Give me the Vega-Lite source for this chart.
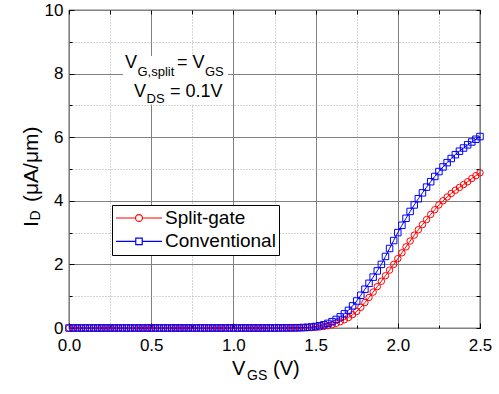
{
  "$schema": "https://vega.github.io/schema/vega-lite/v6.json",
  "width": 411,
  "height": 318,
  "autosize": {"type": "none"},
  "padding": {"left": 69, "top": 10, "right": 19, "bottom": 66},
  "config": {"font": "Liberation Sans", "view": {"stroke": "black", "strokeWidth": 1.2}},
  "data": {"values": [
    {"series":"Split-gate","v":0,"i":0},{"series":"Split-gate","v":0.025,"i":0},{"series":"Split-gate","v":0.05,"i":0},{"series":"Split-gate","v":0.075,"i":0},{"series":"Split-gate","v":0.1,"i":0},{"series":"Split-gate","v":0.125,"i":0},{"series":"Split-gate","v":0.15,"i":0},{"series":"Split-gate","v":0.175,"i":0},{"series":"Split-gate","v":0.2,"i":0},{"series":"Split-gate","v":0.225,"i":0},{"series":"Split-gate","v":0.25,"i":0},{"series":"Split-gate","v":0.275,"i":0},{"series":"Split-gate","v":0.3,"i":0},{"series":"Split-gate","v":0.325,"i":0},{"series":"Split-gate","v":0.35,"i":0},{"series":"Split-gate","v":0.375,"i":0},{"series":"Split-gate","v":0.4,"i":0},{"series":"Split-gate","v":0.425,"i":0},{"series":"Split-gate","v":0.45,"i":0},{"series":"Split-gate","v":0.475,"i":0},{"series":"Split-gate","v":0.5,"i":0},{"series":"Split-gate","v":0.525,"i":0},{"series":"Split-gate","v":0.55,"i":0},{"series":"Split-gate","v":0.575,"i":0},{"series":"Split-gate","v":0.6,"i":0},{"series":"Split-gate","v":0.625,"i":0},{"series":"Split-gate","v":0.65,"i":0},{"series":"Split-gate","v":0.675,"i":0},{"series":"Split-gate","v":0.7,"i":0},{"series":"Split-gate","v":0.725,"i":0},{"series":"Split-gate","v":0.75,"i":0},{"series":"Split-gate","v":0.775,"i":0},{"series":"Split-gate","v":0.8,"i":0},{"series":"Split-gate","v":0.825,"i":0},{"series":"Split-gate","v":0.85,"i":0},{"series":"Split-gate","v":0.875,"i":0},{"series":"Split-gate","v":0.9,"i":0},{"series":"Split-gate","v":0.925,"i":0},{"series":"Split-gate","v":0.95,"i":0},{"series":"Split-gate","v":0.975,"i":0},{"series":"Split-gate","v":1,"i":0},{"series":"Split-gate","v":1.025,"i":0},{"series":"Split-gate","v":1.05,"i":0},{"series":"Split-gate","v":1.075,"i":0},{"series":"Split-gate","v":1.1,"i":0},{"series":"Split-gate","v":1.125,"i":0},{"series":"Split-gate","v":1.15,"i":0},{"series":"Split-gate","v":1.175,"i":0},{"series":"Split-gate","v":1.2,"i":0},{"series":"Split-gate","v":1.225,"i":0},{"series":"Split-gate","v":1.25,"i":0},{"series":"Split-gate","v":1.275,"i":0},{"series":"Split-gate","v":1.3,"i":0},{"series":"Split-gate","v":1.325,"i":0},{"series":"Split-gate","v":1.35,"i":0.001},{"series":"Split-gate","v":1.375,"i":0.002},{"series":"Split-gate","v":1.4,"i":0.003},{"series":"Split-gate","v":1.425,"i":0.005},{"series":"Split-gate","v":1.45,"i":0.008},{"series":"Split-gate","v":1.475,"i":0.013},{"series":"Split-gate","v":1.5,"i":0.02},{"series":"Split-gate","v":1.525,"i":0.032},{"series":"Split-gate","v":1.55,"i":0.05},{"series":"Split-gate","v":1.575,"i":0.072},{"series":"Split-gate","v":1.6,"i":0.1},{"series":"Split-gate","v":1.625,"i":0.145},{"series":"Split-gate","v":1.65,"i":0.2},{"series":"Split-gate","v":1.675,"i":0.26},{"series":"Split-gate","v":1.7,"i":0.33},{"series":"Split-gate","v":1.725,"i":0.42},{"series":"Split-gate","v":1.75,"i":0.52},{"series":"Split-gate","v":1.775,"i":0.65},{"series":"Split-gate","v":1.8,"i":0.8},{"series":"Split-gate","v":1.825,"i":0.96},{"series":"Split-gate","v":1.85,"i":1.13},{"series":"Split-gate","v":1.875,"i":1.3},{"series":"Split-gate","v":1.9,"i":1.47},{"series":"Split-gate","v":1.925,"i":1.645},{"series":"Split-gate","v":1.95,"i":1.82},{"series":"Split-gate","v":1.975,"i":2.0},{"series":"Split-gate","v":2.0,"i":2.18},{"series":"Split-gate","v":2.025,"i":2.365},{"series":"Split-gate","v":2.05,"i":2.55},{"series":"Split-gate","v":2.075,"i":2.735},{"series":"Split-gate","v":2.1,"i":2.92},{"series":"Split-gate","v":2.125,"i":3.09},{"series":"Split-gate","v":2.15,"i":3.25},{"series":"Split-gate","v":2.175,"i":3.41},{"series":"Split-gate","v":2.2,"i":3.57},{"series":"Split-gate","v":2.225,"i":3.72},{"series":"Split-gate","v":2.25,"i":3.87},{"series":"Split-gate","v":2.275,"i":4.0},{"series":"Split-gate","v":2.3,"i":4.12},{"series":"Split-gate","v":2.325,"i":4.23},{"series":"Split-gate","v":2.35,"i":4.33},{"series":"Split-gate","v":2.375,"i":4.42},{"series":"Split-gate","v":2.4,"i":4.51},{"series":"Split-gate","v":2.425,"i":4.6},{"series":"Split-gate","v":2.45,"i":4.7},{"series":"Split-gate","v":2.475,"i":4.79},{"series":"Split-gate","v":2.5,"i":4.88},
    {"series":"Conventional","v":0,"i":0},{"series":"Conventional","v":0.025,"i":0},{"series":"Conventional","v":0.05,"i":0},{"series":"Conventional","v":0.075,"i":0},{"series":"Conventional","v":0.1,"i":0},{"series":"Conventional","v":0.125,"i":0},{"series":"Conventional","v":0.15,"i":0},{"series":"Conventional","v":0.175,"i":0},{"series":"Conventional","v":0.2,"i":0},{"series":"Conventional","v":0.225,"i":0},{"series":"Conventional","v":0.25,"i":0},{"series":"Conventional","v":0.275,"i":0},{"series":"Conventional","v":0.3,"i":0},{"series":"Conventional","v":0.325,"i":0},{"series":"Conventional","v":0.35,"i":0},{"series":"Conventional","v":0.375,"i":0},{"series":"Conventional","v":0.4,"i":0},{"series":"Conventional","v":0.425,"i":0},{"series":"Conventional","v":0.45,"i":0},{"series":"Conventional","v":0.475,"i":0},{"series":"Conventional","v":0.5,"i":0},{"series":"Conventional","v":0.525,"i":0},{"series":"Conventional","v":0.55,"i":0},{"series":"Conventional","v":0.575,"i":0},{"series":"Conventional","v":0.6,"i":0},{"series":"Conventional","v":0.625,"i":0},{"series":"Conventional","v":0.65,"i":0},{"series":"Conventional","v":0.675,"i":0},{"series":"Conventional","v":0.7,"i":0},{"series":"Conventional","v":0.725,"i":0},{"series":"Conventional","v":0.75,"i":0},{"series":"Conventional","v":0.775,"i":0},{"series":"Conventional","v":0.8,"i":0},{"series":"Conventional","v":0.825,"i":0},{"series":"Conventional","v":0.85,"i":0},{"series":"Conventional","v":0.875,"i":0},{"series":"Conventional","v":0.9,"i":0},{"series":"Conventional","v":0.925,"i":0},{"series":"Conventional","v":0.95,"i":0},{"series":"Conventional","v":0.975,"i":0},{"series":"Conventional","v":1,"i":0},{"series":"Conventional","v":1.025,"i":0},{"series":"Conventional","v":1.05,"i":0},{"series":"Conventional","v":1.075,"i":0},{"series":"Conventional","v":1.1,"i":0},{"series":"Conventional","v":1.125,"i":0},{"series":"Conventional","v":1.15,"i":0},{"series":"Conventional","v":1.175,"i":0},{"series":"Conventional","v":1.2,"i":0},{"series":"Conventional","v":1.225,"i":0},{"series":"Conventional","v":1.25,"i":0.001},{"series":"Conventional","v":1.275,"i":0.002},{"series":"Conventional","v":1.3,"i":0.003},{"series":"Conventional","v":1.325,"i":0.004},{"series":"Conventional","v":1.35,"i":0.005},{"series":"Conventional","v":1.375,"i":0.007},{"series":"Conventional","v":1.4,"i":0.01},{"series":"Conventional","v":1.425,"i":0.015},{"series":"Conventional","v":1.45,"i":0.022},{"series":"Conventional","v":1.475,"i":0.033},{"series":"Conventional","v":1.5,"i":0.048},{"series":"Conventional","v":1.525,"i":0.07},{"series":"Conventional","v":1.55,"i":0.1},{"series":"Conventional","v":1.575,"i":0.145},{"series":"Conventional","v":1.6,"i":0.2},{"series":"Conventional","v":1.625,"i":0.27},{"series":"Conventional","v":1.65,"i":0.35},{"series":"Conventional","v":1.675,"i":0.445},{"series":"Conventional","v":1.7,"i":0.555},{"series":"Conventional","v":1.725,"i":0.695},{"series":"Conventional","v":1.75,"i":0.85},{"series":"Conventional","v":1.775,"i":1.03},{"series":"Conventional","v":1.8,"i":1.22},{"series":"Conventional","v":1.825,"i":1.405},{"series":"Conventional","v":1.85,"i":1.6},{"series":"Conventional","v":1.875,"i":1.795},{"series":"Conventional","v":1.9,"i":2.0},{"series":"Conventional","v":1.925,"i":2.25},{"series":"Conventional","v":1.95,"i":2.5},{"series":"Conventional","v":1.975,"i":2.75},{"series":"Conventional","v":2.0,"i":3.0},{"series":"Conventional","v":2.025,"i":3.23},{"series":"Conventional","v":2.05,"i":3.45},{"series":"Conventional","v":2.075,"i":3.665},{"series":"Conventional","v":2.1,"i":3.87},{"series":"Conventional","v":2.125,"i":4.065},{"series":"Conventional","v":2.15,"i":4.25},{"series":"Conventional","v":2.175,"i":4.43},{"series":"Conventional","v":2.2,"i":4.6},{"series":"Conventional","v":2.225,"i":4.765},{"series":"Conventional","v":2.25,"i":4.92},{"series":"Conventional","v":2.275,"i":5.065},{"series":"Conventional","v":2.3,"i":5.2},{"series":"Conventional","v":2.325,"i":5.33},{"series":"Conventional","v":2.35,"i":5.45},{"series":"Conventional","v":2.375,"i":5.56},{"series":"Conventional","v":2.4,"i":5.66},{"series":"Conventional","v":2.425,"i":5.76},{"series":"Conventional","v":2.45,"i":5.85},{"series":"Conventional","v":2.475,"i":5.935},{"series":"Conventional","v":2.5,"i":6.02}
  ]},
  "resolve": {"axis": {"x": "independent", "y": "independent"}},
  "layer": [
    {
      "mark": {"type": "line", "strokeWidth": 1},
      "encoding": {
        "x": {"field": "v", "type": "quantitative", "scale": {"domain": [0, 2.5], "nice": false},
          "axis": {"orient": "bottom", "values": [0.25, 0.75, 1.25, 1.75, 2.25], "grid": true, "gridDash": [1, 2], "gridColor": "#a8a8a8", "gridWidth": 1, "ticks": true, "tickSize": -3, "tickColor": "black", "labels": false, "domain": false, "title": null}},
        "y": {"field": "i", "type": "quantitative", "scale": {"domain": [0, 10], "nice": false},
          "axis": {"orient": "left", "values": [1, 3, 5, 7, 9], "grid": true, "gridDash": [1, 2], "gridColor": "#a8a8a8", "gridWidth": 1, "ticks": true, "tickSize": -3, "tickColor": "black", "labels": false, "domain": false, "title": null}},
        "color": {"field": "series", "type": "nominal",
          "scale": {"domain": ["Split-gate", "Conventional"], "range": ["#ff0000", "#0000ff"]},
          "legend": {"orient": "none", "legendX": 43, "legendY": 195, "title": null, "strokeColor": "black", "fillColor": "white", "padding": 3,
            "symbolSize": 2116, "symbolStrokeWidth": 1.2, "labelFontSize": 19, "labelFont": "Liberation Sans", "labelColor": "black", "labelOffset": 2, "clipHeight": 20, "rowPadding": 3.4, "symbolOffset": 0,
            "encode": {"symbols": {"update": {"shape": {"signal": "datum.value === 'Split-gate' ? 'M-1,0H-0.15M0.15,0H1M-0.15,0A0.15,0.15 0 1,1 0.15,0A0.15,0.15 0 1,1 -0.15,0' : 'M-1,0H-0.14M0.14,0H1M-0.14,-0.14H0.14V0.14H-0.14Z'"}, "fill": {"value": "transparent"}}}}}}
      }
    },
    {
      "transform": [{"filter": "datum.series === 'Split-gate'"}],
      "mark": {"type": "point", "shape": "circle", "size": 42, "strokeWidth": 1, "filled": false, "color": "#ff0000", "opacity": 1},
      "encoding": {
        "x": {"field": "v", "type": "quantitative",
          "axis": {"orient": "bottom", "values": [0, 0.5, 1, 1.5, 2, 2.5], "format": ".1f", "grid": true, "gridColor": "#808080", "gridWidth": 1, "tickSize": -5, "tickColor": "black", "labelFontSize": 17, "labelFont": "Liberation Sans", "labelColor": "black", "labelPadding": 14, "labelFlush": false, "domain": false, "title": null}},
        "y": {"field": "i", "type": "quantitative",
          "axis": {"orient": "left", "values": [0, 2, 4, 6, 8, 10], "grid": true, "gridColor": "#808080", "gridWidth": 1, "tickSize": -5, "tickColor": "black", "labelFontSize": 17, "labelFont": "Liberation Sans", "labelColor": "black", "labelPadding": 11, "labelFlush": false, "domain": false, "title": null}}
      }
    },
    {
      "transform": [{"filter": "datum.series === 'Conventional'"}],
      "mark": {"type": "point", "shape": "square", "size": 42, "strokeWidth": 1, "filled": false, "color": "#0000ff", "opacity": 1},
      "encoding": {
        "x": {"field": "v", "type": "quantitative",
          "axis": {"orient": "top", "values": [0, 0.25, 0.5, 0.75, 1, 1.25, 1.5, 1.75, 2, 2.25, 2.5], "grid": false, "tickSize": -4, "tickColor": "black", "labels": false, "domain": false, "title": null}},
        "y": {"field": "i", "type": "quantitative",
          "axis": {"orient": "right", "values": [0, 1, 2, 3, 4, 5, 6, 7, 8, 9, 10], "grid": false, "tickSize": -4, "tickColor": "black", "labels": false, "domain": false, "title": null}}
      }
    },
    {
      "data": {"values": [{}]},
      "mark": {"type": "rect", "color": "white", "opacity": 1},
      "encoding": {
        "x": {"datum": 0.328, "type": "quantitative", "axis": null},
        "x2": {"datum": 0.967},
        "y": {"datum": 8.55, "type": "quantitative", "axis": null},
        "y2": {"datum": 7.03}
      }
    },
    {"data": {"values": [{}]}, "mark": {"type": "text", "text": "V", "fontSize": 18, "align": "left", "baseline": "alphabetic", "color": "black"},
      "encoding": {"x": {"datum": 0.3406, "type": "quantitative", "axis": null}, "y": {"datum": 8.167, "type": "quantitative", "axis": null}}},
    {"data": {"values": [{}]}, "mark": {"type": "text", "text": "G,split", "fontSize": 13, "align": "left", "baseline": "alphabetic", "color": "black"},
      "encoding": {"x": {"datum": 0.4167, "type": "quantitative", "axis": null}, "y": {"datum": 7.925, "type": "quantitative", "axis": null}}},
    {"data": {"values": [{}]}, "mark": {"type": "text", "text": "= V", "fontSize": 18, "align": "left", "baseline": "alphabetic", "color": "black"},
      "encoding": {"x": {"datum": 0.6569, "type": "quantitative", "axis": null}, "y": {"datum": 8.167, "type": "quantitative", "axis": null}}},
    {"data": {"values": [{}]}, "mark": {"type": "text", "text": "GS", "fontSize": 13, "align": "left", "baseline": "alphabetic", "color": "black"},
      "encoding": {"x": {"datum": 0.8273, "type": "quantitative", "axis": null}, "y": {"datum": 7.925, "type": "quantitative", "axis": null}}},
    {"data": {"values": [{}]}, "mark": {"type": "text", "text": "V", "fontSize": 18, "align": "left", "baseline": "alphabetic", "color": "black"},
      "encoding": {"x": {"datum": 0.3954, "type": "quantitative", "axis": null}, "y": {"datum": 7.274, "type": "quantitative", "axis": null}}},
    {"data": {"values": [{}]}, "mark": {"type": "text", "text": "DS", "fontSize": 13, "align": "left", "baseline": "alphabetic", "color": "black"},
      "encoding": {"x": {"datum": 0.4714, "type": "quantitative", "axis": null}, "y": {"datum": 7.066, "type": "quantitative", "axis": null}}},
    {"data": {"values": [{}]}, "mark": {"type": "text", "text": "= 0.1V", "fontSize": 18, "align": "left", "baseline": "alphabetic", "color": "black"},
      "encoding": {"x": {"datum": 0.6144, "type": "quantitative", "axis": null}, "y": {"datum": 7.274, "type": "quantitative", "axis": null}}},
    {"data": {"values": [{}]}, "mark": {"type": "text", "text": "I", "fontSize": 21, "angle": 270, "align": "left", "baseline": "alphabetic", "color": "black"},
      "encoding": {"x": {"datum": -0.1886, "type": "quantitative", "axis": null}, "y": {"datum": 3.176, "type": "quantitative", "axis": null}}},
    {"data": {"values": [{}]}, "mark": {"type": "text", "text": "D", "fontSize": 14, "angle": 270, "align": "left", "baseline": "alphabetic", "color": "black"},
      "encoding": {"x": {"datum": -0.1764, "type": "quantitative", "axis": null}, "y": {"datum": 3.381, "type": "quantitative", "axis": null}}},
    {"data": {"values": [{}]}, "mark": {"type": "text", "text": "(μA/μm)", "fontSize": 21, "angle": 270, "align": "left", "baseline": "alphabetic", "color": "black"},
      "encoding": {"x": {"datum": -0.1865, "type": "quantitative", "axis": null}, "y": {"datum": 3.962, "type": "quantitative", "axis": null}}},
    {"data": {"values": [{}]}, "mark": {"type": "text", "text": "V", "fontSize": 20, "align": "left", "baseline": "alphabetic", "color": "black"},
      "encoding": {"x": {"datum": 0.9915, "type": "quantitative", "axis": null}, "y": {"datum": -1.478, "type": "quantitative", "axis": null}}},
    {"data": {"values": [{}]}, "mark": {"type": "text", "text": "GS", "fontSize": 14, "align": "left", "baseline": "alphabetic", "color": "black"},
      "encoding": {"x": {"datum": 1.0827, "type": "quantitative", "axis": null}, "y": {"datum": -1.635, "type": "quantitative", "axis": null}}},
    {"data": {"values": [{}]}, "mark": {"type": "text", "text": "(V)", "fontSize": 20, "align": "left", "baseline": "alphabetic", "color": "black"},
      "encoding": {"x": {"datum": 1.2409, "type": "quantitative", "axis": null}, "y": {"datum": -1.478, "type": "quantitative", "axis": null}}}
  ]
}
